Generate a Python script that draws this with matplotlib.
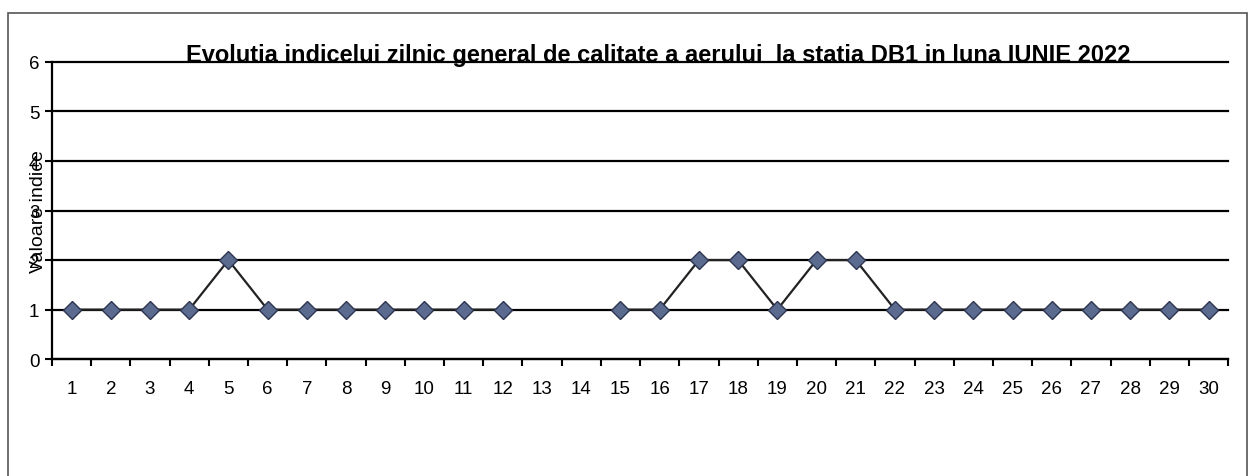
import numpy as np
import matplotlib
matplotlib.use("Agg")
import matplotlib.pyplot as plt
from matplotlib.patches import Rectangle

# zilele lunii iunie 2022 (13 si 14 lipsa date)
days = [str(d) for d in range(1, 31)]
values = [1, 1, 1, 1, 2, 1, 1, 1, 1, 1, 1, 1, np.nan, np.nan, 1,
          1, 2, 2, 1, 2, 2, 1, 1, 1, 1, 1, 1, 1, 1, 1]
yticks = [0, 1, 2, 3, 4, 5, 6]

TITLE = "Evolutia indicelui zilnic general de calitate a aerului  la statia DB1 in luna IUNIE 2022"

plt.rcParams["font.family"] = ["Liberation Sans", "DejaVu Sans"]

fig = plt.figure(figsize=(12.52, 4.77), dpi=100)
ax = fig.add_axes([0.0415, 0.245, 0.9395, 0.623])

# chenar exterior
fig.patches.append(Rectangle((0.006, -0.01), 0.99, 0.98, transform=fig.transFigure,
                             fill=False, edgecolor="#555555", linewidth=1.2))

x = np.arange(1, len(days) + 1)
ax.plot(x, values, color="#222222", linewidth=1.6, marker="D", markersize=9,
        markerfacecolor="#5b6a8f", markeredgecolor="#2e3650", markeredgewidth=1.0,
        zorder=3)

ax.set_xlim(0.5, len(days) + 0.5)
ax.set_ylim(0, 6)
ax.set_yticks(yticks)
ax.set_yticklabels([str(v) for v in yticks], fontsize=13.5)
ax.set_xticks(x)
ax.set_xticklabels(days, fontsize=13.5)
ax.set_xticks(np.arange(0.5, len(days) + 1), minor=True)
ax.tick_params(axis="x", which="major", length=0, pad=15)
ax.tick_params(axis="x", which="minor", length=5, width=1.5, direction="out")
ax.tick_params(axis="y", length=5, width=1.5, direction="out", pad=4)

ax.grid(axis="y", color="black", linewidth=1.6)
for gl in ax.get_ygridlines():
    gl.set_clip_on(False)
ax.set_axisbelow(True)
for s in ["top", "right"]:
    ax.spines[s].set_visible(False)
ax.spines["left"].set_linewidth(1.6)
ax.spines["bottom"].set_linewidth(1.6)

ax.set_ylabel("Valoare indice", fontsize=14, labelpad=-13)

# titlul sta pe linia de grila de la 6
fig.text(0.526, 0.869, TITLE, ha="center", va="baseline", fontsize=17,
         fontweight="bold")

plt.savefig("out.png", dpi=100)
